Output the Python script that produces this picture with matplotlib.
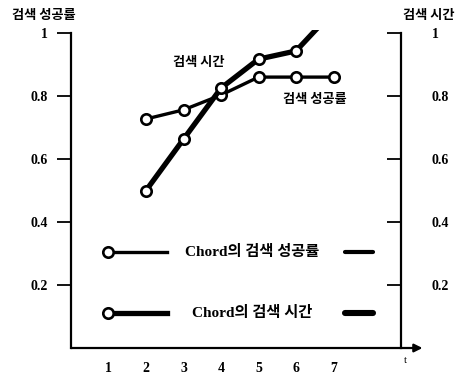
import numpy as np
import matplotlib
matplotlib.use("Agg")
import matplotlib.pyplot as plt

plt.rcParams["font.family"] = ["Liberation Serif", "Noto Sans CJK KR"]

# data
steps = [2, 3, 4, 5, 6, 7]
success_rate = [0.727, 0.756, 0.803, 0.860, 0.860, 0.860]
search_time = [0.50, 0.663, 0.825, 0.917, 0.943, 1.07]
x_ticks = [1, 2, 3, 4, 5, 6, 7]
y_ticks = [0.2, 0.4, 0.6, 0.8, 1.0]
y_tick_labels = ["0.2", "0.4", "0.6", "0.8", "1"]

kr = "Noto Sans CJK KR"
fig = plt.figure(figsize=(4.62, 3.74), dpi=100)
ax = fig.add_axes([0.1537, 0.0695, 0.7143, 0.8507])

mk = dict(marker="o", markersize=7.5, markerfacecolor="white",
          markeredgecolor="black", markeredgewidth=1.9)
ax.plot(steps, success_rate, color="black", lw=2.4, **mk)
ax.plot(steps, search_time, color="black", lw=3.8, markevery=[0, 1, 2, 3, 4],
        solid_capstyle="round", **mk)

ax.set_xlim(0, 8.8)
ax.set_ylim(0, 1.01)
ax.set_xticks(x_ticks)
ax.set_xticklabels([str(v) for v in x_ticks], fontsize=10, fontweight="bold")
ax.tick_params(axis="x", length=0, pad=10)
ax.set_yticks(y_ticks)
ax.set_yticklabels(y_tick_labels, fontsize=10, fontweight="bold")
ax.tick_params(axis="y", length=10, width=1.3, pad=7, direction="out")

ax2 = ax.twinx()
ax2.set_ylim(0, 1.01)
ax2.set_yticks(y_ticks)
ax2.set_yticklabels(y_tick_labels, fontsize=10, fontweight="bold")
ax2.tick_params(axis="y", length=10, width=1.3, pad=22, direction="in")

for a in (ax, ax2):
    a.spines["top"].set_visible(False)
    a.spines["bottom"].set_visible(False)
    a.spines["left"].set_bounds(0, 1)
    a.spines["right"].set_bounds(0, 1)
    a.spines["left"].set_linewidth(1.6)
    a.spines["right"].set_linewidth(1.6)
ax2.spines["left"].set_visible(False)
ax.spines["right"].set_visible(False)

# x axis with arrow
ax.annotate("", xy=(1.065, 0), xytext=(0, 0), xycoords="axes fraction",
            arrowprops=dict(arrowstyle="-|>", color="black", lw=1.6,
                            mutation_scale=12, shrinkA=0, shrinkB=0),
            annotation_clip=False)
ax.text(1.012, -0.025, "t", transform=ax.transAxes, fontsize=8,
        ha="center", va="top")

# axis titles
fig.text(0.095, 0.96, "검색 성공률", family=kr, fontsize=9.5,
         fontweight="bold", ha="center", va="center")
fig.text(0.927, 0.96, "검색 시간", family=kr, fontsize=9.5,
         fontweight="bold", ha="center", va="center")

# line labels
ax.text(3.4, 0.908, "검색 시간", family=kr, fontsize=9.5, fontweight="bold",
        ha="center", va="center")
ax.text(6.5, 0.79, "검색 성공률", family=kr, fontsize=9.5, fontweight="bold",
        ha="center", va="center")

# legend rows
rows = [("Chord의 검색 성공률", 0.305, 2.4), ("Chord의 검색 시간", 0.111, 3.8)]
for label, yy, lw in rows:
    fy = yy / 1.01
    ax.plot([0.113, 0.291], [fy, fy], color="black", lw=lw,
            transform=ax.transAxes, clip_on=False)
    ax.plot([0.113], [fy], transform=ax.transAxes, clip_on=False, **mk)
    ax.plot([0.83, 0.915], [fy, fy], color="black", lw=lw + 0.6,
            transform=ax.transAxes, solid_capstyle="round")
    ax.text(0.55, fy, label, transform=ax.transAxes, fontsize=11,
            fontweight="bold", ha="center", va="center")

fig.savefig("out.png", dpi=100)
